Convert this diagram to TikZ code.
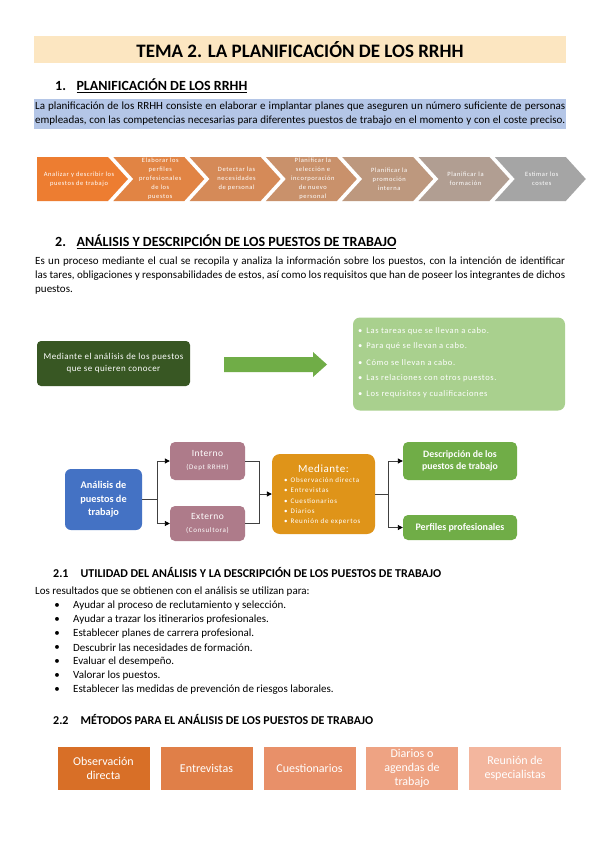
\documentclass[tikz,border=0pt]{standalone}
\usepackage{fontspec}
\setmainfont{Carlito}
\usetikzlibrary{arrows.meta}
\definecolor{titlebg}{HTML}{FCE6C1}
\definecolor{bluebg}{HTML}{B4C6E7}
\definecolor{chevor}{HTML}{ED7D31}
\definecolor{chevgr}{HTML}{A5A5A5}
\definecolor{dkgreen}{HTML}{385723}
\definecolor{midgreen}{HTML}{70AD47}
\definecolor{ltgreen}{HTML}{A9D08E}
\definecolor{anablue}{HTML}{4472C4}
\definecolor{mauve}{HTML}{AE7B8A}
\definecolor{goldbox}{HTML}{DF9419}
\definecolor{linegray}{HTML}{404040}
\definecolor{mA}{HTML}{D86F27}
\definecolor{mB}{HTML}{E07F48}
\definecolor{mC}{HTML}{E89069}
\definecolor{mD}{HTML}{EEA383}
\definecolor{mE}{HTML}{F3B69E}
\newcommand{\fsz}[2]{\fontsize{#1}{#2}\selectfont}
\newcommand{\lsp}[1]{\addfontfeatures{LetterSpace=#1}}
\newcommand{\jline}[1]{\makebox[530pt][s]{#1}}
\begin{document}
\begin{tikzpicture}[x=1pt,y=-1pt,
  heading/.style={anchor=west,inner sep=0,font=\bfseries\fsz{14}{16}},
  subheading/.style={anchor=west,inner sep=0,font=\bfseries\fsz{12}{14}},
  bodytext/.style={anchor=west,inner sep=0,font=\fsz{11}{14}},
  chevtext/.style={text=white,font=\fsz{6.5}{9}\lsp{9},align=center,inner sep=0},
  dbox/.style={rounded corners=4,draw=none,text=white,align=center,inner sep=0},
  conn/.style={draw=linegray,line width=0.9pt},
  arr/.style={conn,-{Triangle[length=5pt,width=5pt,color=black]}},
  mbox/.style={draw=none,text=white,align=center,inner sep=0,minimum width=92,minimum height=43,font=\fsz{12}{14}}
]
\useasboundingbox (0,0) rectangle (599,848);
\fill[white] (0,0) rectangle (599,848);

% Title
\fill[titlebg] (34,36) rectangle (566,63);
\node[inner sep=0,font=\bfseries\fsz{19}{21}] (title) at (300,49.5) {TEMA 2. LA PLANIFICACIÓN DE LOS RRHH};

% Section 1
\node[heading] (h1) at (55,86) {1.\hspace{0.75em}\underline{PLANIFICACIÓN DE LOS RRHH}};
\fill[bluebg] (34,99) rectangle (566,129);
\node[bodytext] (p1a) at (35,107) {\jline{La planificación de los RRHH consiste en elaborar e implantar planes que aseguren un número suficiente de personas}};
\node[bodytext] (p1b) at (35,121) {\jline{empleadas, con las competencias necesarias para diferentes puestos de trabajo en el momento y con el coste preciso.}};

% Chevrons
\foreach \i in {0,...,6}{
  \pgfmathsetmacro\L{37+76.3*\i}
  \pgfmathsetmacro\B{\L+71}
  \pgfmathsetmacro\T{\L+91}
  \pgfmathsetmacro\N{\L+20}
  \pgfmathsetmacro\p{\i*100/6}
  \ifnum\i=0
    \fill[chevgr!\p!chevor] (\L,157) -- (\B,157) -- (\T,179) -- (\B,201) -- (\L,201) -- cycle;
  \else
    \fill[chevgr!\p!chevor] (\L,157) -- (\B,157) -- (\T,179) -- (\B,201) -- (\L,201) -- (\N,179) -- cycle;
  \fi
}
\node[chevtext] (c0) at (79,179) {Analizar y describir los\\puestos de trabajo};
\node[chevtext] (c1) at ({37+76.3*1+47},179) {Elaborar los\\perfiles\\profesionales\\de los\\puestos};
\node[chevtext] (c2) at ({37+76.3*2+47},179) {Detectar las\\necesidades\\de personal};
\node[chevtext] (c3) at ({37+76.3*3+47},179) {Planificar la\\selección e\\incorporación\\de nuevo\\personal};
\node[chevtext] (c4) at ({37+76.3*4+47},179) {Planificar la\\promoción\\interna};
\node[chevtext] (c5) at ({37+76.3*5+47},179) {Planificar la\\formación};
\node[chevtext] (c6) at ({37+76.3*6+47},179) {Estimar los\\costes};

% Section 2
\node[heading] (h2) at (55,242) {2.\hspace{0.75em}\underline{ANÁLISIS Y DESCRIPCIÓN DE LOS PUESTOS DE TRABAJO}};
\node[bodytext] (p2a) at (35,262) {\jline{Es un proceso mediante el cual se recopila y analiza la información sobre los puestos, con la intención de identificar}};
\node[bodytext] (p2b) at (35,276) {\jline{las tares, obligaciones y responsabilidades de estos, así como los requisitos que han de poseer los integrantes de dichos}};
\node[bodytext] (p2c) at (35,290) {puestos.};

% Green row
\node[dbox,fill=dkgreen,minimum width=153,minimum height=45,font=\fsz{9}{12}\lsp{5}] (dk) at (113.5,363.5) {Mediante el análisis de los puestos\\que se quieren conocer};
\fill[midgreen] (224,357) -- (313,357) -- (313,352) -- (327,364.5) -- (313,377) -- (313,372) -- (224,372) -- cycle;
\node[dbox,fill=ltgreen,rounded corners=7,minimum width=212,minimum height=93] (lg) at (459,364) {};
\foreach \t [count=\i] in {Las tareas que se llevan a cabo.,Para qué se llevan a cabo.,Cómo se llevan a cabo.,Las relaciones con otros puestos.,Los requisitos y cualificaciones}{
  \node[anchor=west,inner sep=0,text=white,font=\fsz{8.5}{10}\lsp{7}] (lg\i) at (358,{315+15.8*\i}) {\textbullet\hspace{4pt}\t};
}

% Process diagram
\node[dbox,fill=anablue,rounded corners=6,minimum width=77,minimum height=61,font=\bfseries\fsz{10.3}{13.5}] (ana) at (103.5,499.5) {Análisis de\\puestos de\\trabajo};
\node[dbox,fill=mauve,rounded corners=5,minimum width=75,minimum height=38] (int) at (207.5,461) {{\fsz{9.5}{11}\lsp{5}Interno}\\[1pt]{\fsz{7}{8}\lsp{10}(Dept RRHH)}};
\node[dbox,fill=mauve,rounded corners=5,minimum width=75,minimum height=35] (ext) at (207.5,523.5) {{\fsz{9.5}{11}\lsp{5}Externo}\\[1pt]{\fsz{7}{8}\lsp{10}(Consultora)}};
\node[dbox,fill=goldbox,rounded corners=8,minimum width=103,minimum height=80] (med) at (323.5,494) {};
\node[inner sep=0,text=white,font=\fsz{11}{12}\lsp{5}] (medt) at (323.5,468.5) {Mediante:};
\foreach \t [count=\i] in {Observación directa,Entrevistas,Cuestionarios,Diarios,Reunión de expertos}{
  \node[anchor=west,inner sep=0,text=white,font=\fsz{7}{8}\lsp{10}] (md\i) at (284,{470+10.3*\i}) {\textbullet\hspace{3pt}\t};
}
\node[dbox,fill=midgreen,rounded corners=5,minimum width=114,minimum height=38,font=\bfseries\fsz{9.8}{12.5}] (desc) at (460,461) {Descripción de los\\puestos de trabajo};
\node[dbox,fill=midgreen,rounded corners=5,minimum width=114,minimum height=25,font=\bfseries\fsz{10}{12}] (perf) at (460,527.5) {Perfiles profesionales};

\coordinate (s1) at (157,0);
\coordinate (s2) at (259,0);
\coordinate (s3) at (388,0);
\draw[conn] (ana.east) -- (ana.east -| s1);
\draw[arr] (ana.east -| s1) |- (int.west);
\draw[arr] (ana.east -| s1) |- (ext.west);
\draw[conn] (int.east) -| (med.west -| s2);
\draw[conn] (ext.east) -| (med.west -| s2);
\draw[arr] (med.west -| s2) -- (med.west);
\draw[conn] (med.east) -- (med.east -| s3);
\draw[arr] (med.east -| s3) |- (desc.west);
\draw[arr] (med.east -| s3) |- (perf.west);

% Section 2.1
\node[subheading] (h21) at (53,572) {2.1\hspace{1em}UTILIDAD DEL ANÁLISIS Y LA DESCRIPCIÓN DE LOS PUESTOS DE TRABAJO};
\node[bodytext] (p3) at (35,592) {Los resultados que se obtienen con el análisis se utilizan para:};
\foreach \t [count=\i] in {Ayudar al proceso de reclutamiento y selección.,Ayudar a trazar los itinerarios profesionales.,Establecer planes de carrera profesional.,Descubrir las necesidades de formación.,Evaluar el desempeño.,Valorar los puestos.,Establecer las medidas de prevención de riesgos laborales.}{
  \node[inner sep=0,font=\fsz{11}{12}] (bu\i) at (57,{592+14*\i}) {\textbullet};
  \node[bodytext] (bt\i) at (73,{592+14*\i}) {\t};
}

% Section 2.2
\node[subheading] (h22) at (53,719) {2.2\hspace{1em}MÉTODOS PARA EL ANÁLISIS DE LOS PUESTOS DE TRABAJO};
\node[mbox,fill=mA] (mt1) at (103.5,768.5) {Observación\\directa};
\node[mbox,fill=mB] (mt2) at (206.5,768.5) {Entrevistas};
\node[mbox,fill=mC] (mt3) at (309.5,768.5) {Cuestionarios};
\node[mbox,fill=mD] (mt4) at (412,768.5) {Diarios o\\agendas de\\trabajo};
\node[mbox,fill=mE] (mt5) at (515,768.5) {Reunión de\\especialistas};
\end{tikzpicture}
\end{document}
